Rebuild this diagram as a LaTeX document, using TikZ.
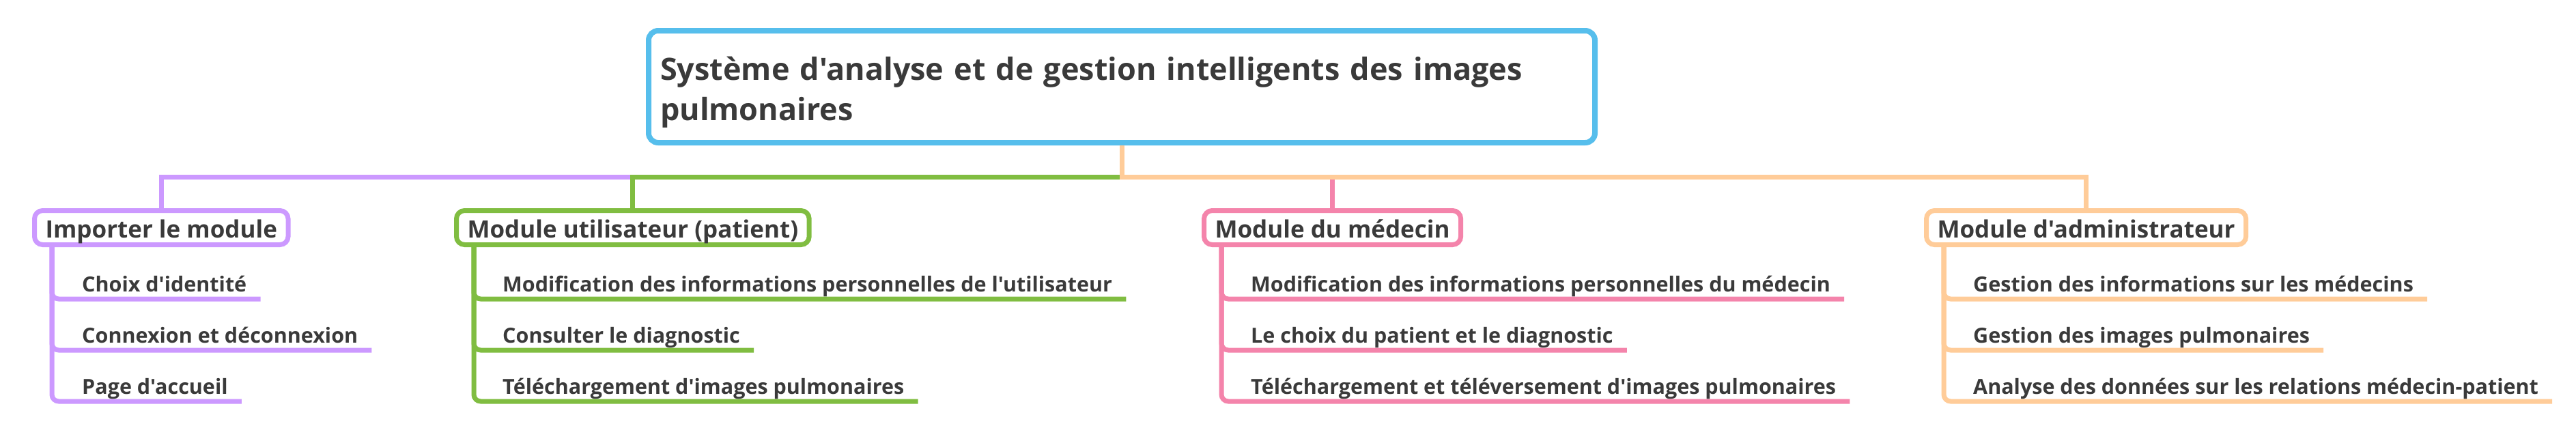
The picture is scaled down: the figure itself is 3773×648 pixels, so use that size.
\documentclass[tikz,border=0pt]{standalone}
\usepackage{fontspec}
\setmainfont{Open Sans}[Ligatures=TeXOff]
\usetikzlibrary{positioning,calc}
\definecolor{rootblue}{RGB}{86,190,236}
\definecolor{cpurple}{RGB}{204,153,255}
\definecolor{cgreen}{RGB}{128,189,65}
\definecolor{cpink}{RGB}{244,132,171}
\definecolor{corange}{RGB}{255,204,153}
\definecolor{txtgray}{RGB}{58,58,58}

\begin{document}
\begin{tikzpicture}[x=1pt, y=-1pt,
    rootbox/.style={draw=rootblue, line width=8pt, rounded corners=14pt, fill=white, minimum height=164pt, text width=1352pt, inner xsep=17pt, text height=40pt, text depth=60pt, align=left, font=\fontsize{45}{59}\selectfont\bfseries, text=txtgray},
    modbox/.style={draw=#1, line width=7pt, rounded corners=12pt, fill=white, minimum height=50pt, inner xsep=16pt, inner ysep=3.5pt, text height=36pt, text depth=7pt, font=\fontsize{35}{43}\selectfont\bfseries, text=txtgray, anchor=west},
    leaf/.style={inner sep=0pt, anchor=base west, font=\fontsize{30.5}{37}\selectfont\bfseries, text=txtgray},
    conn/.style={line width=7pt, draw=#1},
    sub/.style={line width=7pt, draw=#1, rounded corners=10pt}
]
\fill[white] (0,0) rectangle (3773,648);
\useasboundingbox (0,0) rectangle (3773,648);

\node[rootbox] (root) at (1643,127) {Système d'analyse et de gestion intelligents des images\\pulmonaires};

\node[modbox=cpurple] (imp) at (47,333.5) {Importer le module};
\node[modbox=cgreen] (usr) at (665,333.5) {Module utilisateur (patient)};
\node[modbox=cpink] (med) at (1760,333.5) {Module du médecin};
\node[modbox=corange] (adm) at (2818,333.5) {Module d'administrateur};

% branches from the root
\draw[conn=cpurple] (root.south) -- ++(0,46) -| (imp.north);
\draw[conn=cgreen] (root.south) -- ++(0,46) -| (usr.north);
\draw[conn=cpink] (root.south) -- ++(0,46) -| (med.north);
\draw[conn=corange] (root.south) -- ++(0,46) -| (adm.north);

% import
\node[leaf] (i1) at (120,427) {Choix d'identité};
\node[leaf] (i2) at (120,502) {Connexion et déconnexion};
\node[leaf] (i3) at (120,577) {Page d'accueil};
\foreach \n in {i3,i2,i1}
  \draw[sub=cpurple] ([xshift=29pt]imp.south west) |- ([xshift=20pt,yshift=-11pt]\n.base east);

% user
\node[leaf] (u1) at (736,427) {Modification des informations personnelles de l'utilisateur};
\node[leaf] (u2) at (736,502) {Consulter le diagnostic};
\node[leaf] (u3) at (736,577) {Téléchargement d'images pulmonaires};
\foreach \n in {u3,u2,u1}
  \draw[sub=cgreen] ([xshift=29pt]usr.south west) |- ([xshift=20pt,yshift=-11pt]\n.base east);

% doctor
\node[leaf] (m1) at (1832,427) {Modification des informations personnelles du médecin};
\node[leaf] (m2) at (1832,502) {Le choix du patient et le diagnostic};
\node[leaf] (m3) at (1832,577) {Téléchargement et téléversement d'images pulmonaires};
\foreach \n in {m3,m2,m1}
  \draw[sub=cpink] ([xshift=29pt]med.south west) |- ([xshift=20pt,yshift=-11pt]\n.base east);

% admin
\node[leaf] (a1) at (2890,427) {Gestion des informations sur les médecins};
\node[leaf] (a2) at (2890,502) {Gestion des images pulmonaires};
\node[leaf] (a3) at (2890,577) {Analyse des données sur les relations médecin-patient};
\foreach \n in {a3,a2,a1}
  \draw[sub=corange] ([xshift=29pt]adm.south west) |- ([xshift=20pt,yshift=-11pt]\n.base east);
\end{tikzpicture}
\end{document}
